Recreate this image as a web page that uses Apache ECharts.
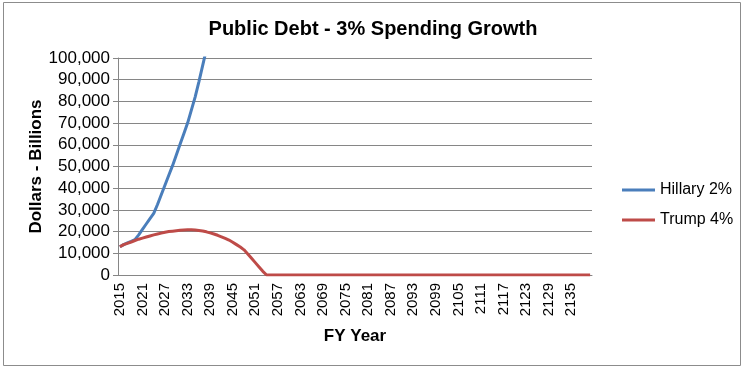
<!DOCTYPE html>
<html>
<head>
<meta charset="utf-8">
<script src="https://cdn.jsdelivr.net/npm/echarts@6/dist/echarts.min.js"></script>
<style>
html,body{margin:0;padding:0;background:#fff;}
#c{width:746px;height:372px;}
</style>
</head>
<body>
<div id="c"></div>
<script>
// Categories: fiscal years 2015..2140
var years = [];
for (var y = 2015; y <= 2140; y++) years.push(String(y));

// Hillary 2% (values beyond the 100,000 axis top are clipped)
var hillary = [13000, 14000, 14800, 15500, 16300, 18500, 21000, 23500, 26000, 28400,
  32500, 37000, 41500, 46000, 50400, 55300, 60200, 65100, 70000, 76000,
  82000, 89000, 96500, 104000];

// Trump 4%
var trumpHead = [13000, 14000, 14600, 15200, 15900, 16500, 17000, 17500, 18000, 18500,
  18900, 19300, 19700, 20000, 20200, 20400, 20600, 20700, 20800, 20800,
  20700, 20500, 20300, 19900, 19400, 18900, 18300, 17600, 16900, 16100,
  15100, 14000, 12900, 11600, 9700, 7700, 5700, 3700, 1700, 0];
var trump = trumpHead.slice();
while (trump.length < years.length) trump.push(0);

var chart = echarts.init(document.getElementById('c'));
chart.setOption({
  animation: false,
  backgroundColor: '#fff',
  title: {
    text: 'Public Debt - 3% Spending Growth',
    left: 'center', top: 14,
    textStyle: {fontFamily: "'Liberation Sans Narrow','Liberation Sans',Arial", fontWeight: 'bold', fontSize: 20, color: '#000'}
  },
  graphic: [{
    type: 'rect', shape: {x: 3.5, y: 2.5, width: 737, height: 363},
    style: {fill: 'none', stroke: '#8c8c8c', lineWidth: 1}, silent: true, z: -1
  }],
  legend: {
    orient: 'vertical', left: 617, top: 177, itemGap: 14,
    itemWidth: 33, itemHeight: 3,
    icon: 'rect',
    textStyle: {fontFamily: "'Liberation Sans',Arial", fontSize: 16, color: '#000'},
    data: ['Hillary 2%', 'Trump 4%']
  },
  grid: {left: 118, right: 154, top: 58, bottom: 97, containLabel: false},
  xAxis: {
    type: 'category', data: years, boundaryGap: true,
    name: 'FY Year', nameLocation: 'middle', nameGap: 53,
    nameTextStyle: {fontFamily: "'Liberation Sans',Arial", fontWeight: 'bold', fontSize: 17, color: '#000'},
    axisLine: {lineStyle: {color: '#868686'}},
    axisTick: {interval: 0, length: 5, lineStyle: {color: '#868686'}},
    axisLabel: {interval: 5, rotate: 90, fontFamily: "'Liberation Sans',Arial", fontSize: 15, color: '#000', margin: 8}
  },
  yAxis: {
    type: 'value', min: 0, max: 100000, interval: 10000,
    name: 'Dollars - Billions', nameLocation: 'middle', nameGap: 73, nameRotate: 90,
    nameMoveOverlap: false,
    nameTextStyle: {fontFamily: "'Liberation Sans',Arial", fontWeight: 'bold', fontSize: 17, color: '#000'},
    axisLine: {show: true, lineStyle: {color: '#868686'}},
    axisTick: {show: true, length: 5, lineStyle: {color: '#868686'}},
    splitLine: {lineStyle: {color: '#868686'}},
    axisLabel: {
      fontFamily: "'Liberation Sans',Arial", fontSize: 17, color: '#000', margin: 8,
      formatter: function (v) { return v.toLocaleString('en-US'); }
    }
  },
  series: [
    {name: 'Hillary 2%', type: 'line', data: hillary, showSymbol: false, symbol: 'none', clip: true,
     lineStyle: {color: '#4a7ebb', width: 3}, itemStyle: {color: '#4a7ebb'}},
    {name: 'Trump 4%', type: 'line', data: trump, showSymbol: false, symbol: 'none', clip: true,
     lineStyle: {color: '#be4b48', width: 3}, itemStyle: {color: '#be4b48'}}
  ]
});
</script>
</body>
</html>
